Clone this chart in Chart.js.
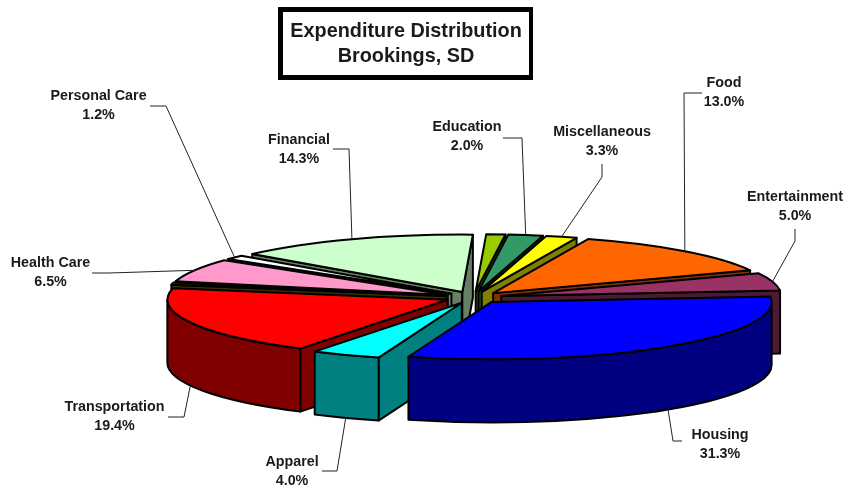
<!DOCTYPE html>
<html>
<head>
<meta charset="utf-8">
<title>Expenditure Distribution</title>
<script src="https://cdn.jsdelivr.net/npm/chart.js@4/dist/chart.umd.js"></script>
<style>
    html, body { margin: 0; padding: 0; background: #fff; }
    canvas { display: block; }
</style>
</head>
<body>
<canvas id="pie" width="845" height="487"></canvas>
<script>
// Slices clockwise, starting at Food. Two slivers in the picture carry no label.
const categories = ['Food', 'Entertainment', 'Housing', 'Apparel', 'Transportation', '', 'Health Care', 'Personal Care', 'Financial', '', 'Education', 'Miscellaneous'];
const printedPercents = ['13.0%', '5.0%', '31.3%', '4.0%', '19.4%', '', '6.5%', '1.2%', '14.3%', '', '2.0%', '3.3%'];
const sliceSizes = [13.0, 5.0, 31.3, 4.0, 19.4, 0.6, 6.5, 1.2, 14.1, 1.1, 2.0, 1.8];
const topColors = ['#ff6600', '#993366', '#0000ff', '#00ffff', '#ff0000', '#556600', '#ff99cc', '#ffffff', '#ccffcc', '#99cc00', '#339966', '#ffff00'];
const wallColors = ['#803300', '#4d1a33', '#000080', '#008080', '#800000', '#333300', '#804d66', '#808080', '#668066', '#4d6600', '#1a4d33', '#808000'];
const titleLines = ['Expenditure Distribution', 'Brookings, SD'];

// layout, kept apart from the data
const SQUASH = 0.205;
const DEPTH = 63;
const EXPLODE = 28.6;
// label centre, then leader start and elbow; the leader ends on its slice
const labelLayout = [
    {x: 724, y: 83, leader: [[702, 93], [684, 93]]},
    {x: 795, y: 197, leader: [[795, 229], [795, 241]]},
    {x: 720, y: 435, leader: [[682, 441], [673, 441]]},
    {x: 292, y: 462, leader: [[322, 471], [337, 471]]},
    {x: 114.5, y: 407, leader: [[168, 417], [184, 417]]},
    null,
    {x: 50.5, y: 263, leader: [[92, 273], [109, 273]]},
    {x: 98.5, y: 96, leader: [[150, 106], [166, 106]]},
    {x: 299, y: 140, leader: [[333, 149], [349, 149]]},
    null,
    {x: 467, y: 127, leader: [[503, 138], [522, 138]]},
    {x: 602, y: 132, leader: [[602, 164], [602, 177]]}
];

function sliceGeometry(el) {
    const mid = (el.startAngle + el.endAngle) / 2;
    return {
        a: el.startAngle,
        b: el.endAngle,
        mid: mid,
        r: el.outerRadius,
        cx: el.x + Math.cos(mid) * EXPLODE,
        cy: el.y + Math.sin(mid) * EXPLODE * SQUASH
    };
}

function rimPoint(g, angle) {
    return [g.cx + Math.cos(angle) * g.r, g.cy + Math.sin(angle) * g.r * SQUASH];
}

// highest point of the slice toward the viewer, used for back to front order
function frontness(g) {
    let best = Math.max(Math.sin(g.a), Math.sin(g.b));
    for (let t = Math.PI / 2; t < 3 * Math.PI; t += 2 * Math.PI) {
        if (g.a <= t && g.b >= t) best = 1;
    }
    return best;
}

function paint(ctx, fill) {
    ctx.fillStyle = fill;
    ctx.fill();
    ctx.stroke();
}

function drawRadialWall(ctx, g, angle, fill) {
    const p = rimPoint(g, angle);
    ctx.beginPath();
    ctx.moveTo(g.cx, g.cy);
    ctx.lineTo(p[0], p[1]);
    ctx.lineTo(p[0], p[1] + DEPTH);
    ctx.lineTo(g.cx, g.cy + DEPTH);
    ctx.closePath();
    paint(ctx, fill);
}

function drawRimWall(ctx, g, fill) {
    // only the front half of the rim can be seen
    for (let k = 0; k < 2; k++) {
        const from = Math.max(g.a, k * 2 * Math.PI);
        const to = Math.min(g.b, Math.PI + k * 2 * Math.PI);
        if (from >= to) continue;
        const ry = g.r * SQUASH;
        ctx.beginPath();
        ctx.ellipse(g.cx, g.cy, g.r, ry, 0, from, to);
        ctx.ellipse(g.cx, g.cy + DEPTH, g.r, ry, 0, to, from, true);
        ctx.closePath();
        paint(ctx, fill);
    }
}

function drawTop(ctx, g, fill) {
    ctx.beginPath();
    ctx.moveTo(g.cx, g.cy);
    ctx.ellipse(g.cx, g.cy, g.r, g.r * SQUASH, 0, g.a, g.b);
    ctx.closePath();
    paint(ctx, fill);
}

const pie3d = {
    id: 'pie3d',
    // takes over from the flat arcs, geometry still comes from the arc elements
    beforeDatasetDraw(chart, args) {
        const ctx = chart.ctx;
        const slices = args.meta.data.map((el, i) => ({g: sliceGeometry(el), i: i}));
        slices.sort((p, q) => frontness(p.g) - frontness(q.g));
        ctx.save();
        ctx.strokeStyle = '#000';
        ctx.lineWidth = 2;
        ctx.lineJoin = 'round';
        slices.forEach(s => {
            const g = s.g;
            if (Math.cos(g.a) < 0) drawRadialWall(ctx, g, g.a, wallColors[s.i]);
            if (Math.cos(g.b) > 0) drawRadialWall(ctx, g, g.b, wallColors[s.i]);
            drawRimWall(ctx, g, wallColors[s.i]);
            drawTop(ctx, g, topColors[s.i]);
        });
        ctx.restore();
        return false;
    },
    afterDatasetsDraw(chart) {
        const ctx = chart.ctx;
        const arcs = chart.getDatasetMeta(0).data;
        ctx.save();
        // leaders
        ctx.strokeStyle = '#222';
        ctx.lineWidth = 1;
        labelLayout.forEach((lab, i) => {
            if (!lab) return;
            const g = sliceGeometry(arcs[i]);
            const end = rimPoint(g, g.mid);
            if (Math.sin(g.mid) > 0) end[1] += DEPTH;
            ctx.beginPath();
            ctx.moveTo(lab.leader[0][0], lab.leader[0][1]);
            ctx.lineTo(lab.leader[1][0], lab.leader[1][1]);
            ctx.lineTo(end[0], end[1]);
            ctx.stroke();
        });
        // labels
        ctx.fillStyle = '#1a1a1a';
        ctx.font = 'bold 14.3px "Liberation Sans", Arial, sans-serif';
        ctx.textAlign = 'center';
        ctx.textBaseline = 'middle';
        labelLayout.forEach((lab, i) => {
            if (!lab) return;
            ctx.fillText(categories[i], lab.x, lab.y);
            ctx.fillText(printedPercents[i], lab.x, lab.y + 18.7);
        });
        // title box
        ctx.fillStyle = '#000';
        ctx.fillRect(278, 7, 255, 73);
        ctx.fillStyle = '#fff';
        ctx.fillRect(283, 12, 246, 63);
        ctx.fillStyle = '#1a1a1a';
        ctx.font = 'bold 19.85px "Liberation Sans", Arial, sans-serif';
        ctx.textBaseline = 'alphabetic';
        ctx.fillText(titleLines[0], 406, 37);
        ctx.fillText(titleLines[1], 406, 62);
        ctx.restore();
    }
};

new Chart(document.getElementById('pie'), {
    type: 'pie',
    data: {
        labels: categories,
        datasets: [{
            data: sliceSizes,
            backgroundColor: topColors,
            radius: 280,
            rotation: 19.8
        }]
    },
    options: {
        responsive: false,
        animation: false,
        // puts the pie centre at 473.6, 297.4
        layout: { padding: { left: 102.2, top: 107.8, right: 0, bottom: 0 } },
        plugins: { legend: { display: false }, tooltip: { enabled: false } }
    },
    plugins: [pie3d]
});
</script>
</body>
</html>
